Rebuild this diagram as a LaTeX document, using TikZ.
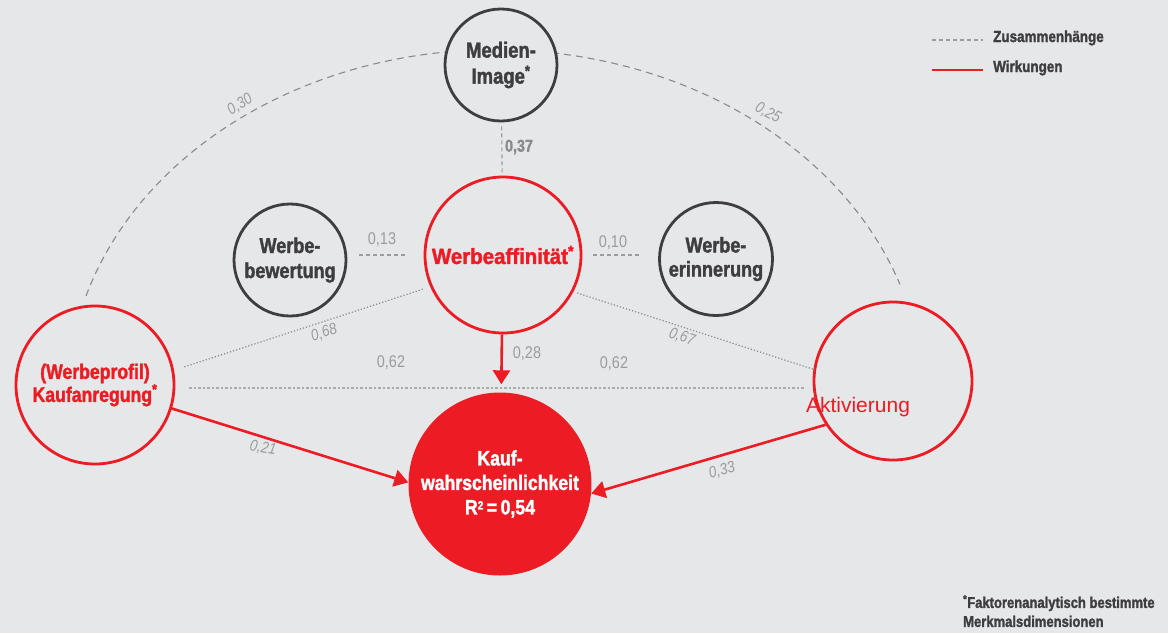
\documentclass[tikz,border=0pt]{standalone}
\usepackage{fontspec}
\setmainfont{Liberation Sans}
\newfontfamily\cnd[FakeStretch=0.85]{Liberation Sans}
\newfontfamily\hvy[FakeStretch=0.84,FakeBold=1.6]{Liberation Sans}
\newfontfamily\hvyw[FakeStretch=0.93,FakeBold=1.6]{Liberation Sans}
\usetikzlibrary{arrows.meta,calc}
\definecolor{bgc}{HTML}{E6E7E8}
\definecolor{rd}{HTML}{ED1C24}
\definecolor{dk}{HTML}{3E3E40}
\definecolor{lg}{HTML}{9C9C9C}
\definecolor{lk}{HTML}{8A8A8A}
\definecolor{arcc}{HTML}{8A8A8A}
\begin{document}
\begin{tikzpicture}[x=1pt,y=-1pt,
  circ/.style={circle, line width=2.8pt, fill=bgc, inner sep=0pt, align=center},
  dkcirc/.style={circ, draw=dk, text=dk, font=\hvy\bfseries\fontsize{22}{26}\selectfont},
  rdcirc/.style={circ, draw=rd, text=rd},
  num/.style={text=lg, font=\cnd\fontsize{17}{20}\selectfont, inner sep=0pt},
  inum/.style={num, font=\cnd\itshape\fontsize{16}{19}\selectfont},
  dashln/.style={draw=lg, line width=1.1pt, dash pattern=on 4pt off 3pt},
  arcln/.style={draw=arcc, line width=1.1pt, dash pattern=on 7pt off 5pt},
  dotln/.style={draw=lk, line width=1.2pt, dash pattern=on 1.2pt off 2pt},
  hdotln/.style={draw=lg!85!white, line width=1.2pt, dash pattern=on 2.5pt off 2pt},
  wirk/.style={draw=rd, line width=2.6pt, -{Triangle[length=14pt,width=17pt]}},
  legtxt/.style={anchor=base west, text=dk, inner sep=0pt, font=\hvy\bfseries\fontsize{16}{19}\selectfont},
]
\fill[bgc] (0,0) rectangle (1168,633);

% big dashed arc (behind the circles)
\coordinate (arcL) at (86,296);
\draw[arcln] (arcL) arc[start angle=163, end angle=19, x radius=428pt, y radius=348pt];

% nodes
\node[dkcirc, minimum size=112pt] (mi) at (501,65) {Medien-\\Image\textsuperscript{*}};
\node[rdcirc, minimum size=156pt, font=\hvyw\bfseries\fontsize{22}{26}\selectfont] (wa) at (503,255) {Werbeaffinität\textsuperscript{*}};
\node[dkcirc, minimum size=112pt, font=\hvy\bfseries\fontsize{21.5}{25}\selectfont] (wb) at (290,260) {Werbe-\\bewertung};
\node[dkcirc, minimum size=113pt, font=\hvy\bfseries\fontsize{21.5}{24}\selectfont] (we) at (716,259) {Werbe-\\erinnerung};
\node[rdcirc, minimum size=158pt, font=\hvy\bfseries\fontsize{21}{23}\selectfont] (ka) at (95,385) {(Werbeprofil)\\Kaufanregung\textsuperscript{*}};
\node[rdcirc, minimum size=158pt] (ak) at (893,381) {};
\node[font=\fontsize{21}{24}\selectfont, text=rd, inner sep=0pt, anchor=base] (akt) at (858,412) {Aktivierung};
\node[circle, fill=rd, minimum size=183pt, inner sep=0pt, text=white, align=center,
      font=\hvy\bfseries\fontsize{21}{24.5}\selectfont] (kw) at (500,484)
      {Kauf-\\wahrscheinlichkeit\\R{\fontsize{12}{12}\selectfont\raisebox{5pt}{2}}\,=\,0,54};

% correlations (dashed / dotted)
\draw[dashln, shorten <=4pt] (mi) -- (wa);
\draw[dashln, shorten <=12pt, shorten >=16pt] (wb.east |- wa.west) -- (wa.west);
\draw[dashln, shorten <=11pt, shorten >=16pt] (wa.east) -- (we.west |- wa.east);
\draw[dotln, shorten <=94pt, shorten >=84pt] ($(ka)+(0,11)$) -- ($(wa)+(0,8)$);
\draw[dotln, shorten <=78pt, shorten >=82pt] ($(wa)+(0,14)$) -- ($(ak)+(0,14)$);
\draw[hdotln, shorten <=94pt, shorten >=88pt] ($(ka)+(0,3)$) coordinate (h) -- (h -| ak);

% effects (red arrows)
\draw[wirk, shorten >=8pt] (wa) -- (kw);
\draw[wirk] (ka.-17) -- (kw.179);
\draw[wirk] (ak.-147) -- (kw.-6);

% labels
\node[num, text=lk, font=\hvy\bfseries\fontsize{17}{20}\selectfont] (l37) at (519,147) {0,37};
\node[num] (l13) at (382,240) {0,13};
\node[num] (l10) at (613,243) {0,10};
\node[inum, rotate=18] (l68) at (324,333) {0,68};
\node[num] (l62a) at (391,363) {0,62};
\node[num] (l62b) at (614,364) {0,62};
\node[inum, rotate=-18] (l67) at (682,337) {0,67};
\node[num] (l28) at (527,354) {0,28};
\node[inum, rotate=-10] (l21) at (263,448) {0,21};
\node[inum, rotate=15] (l33) at (722,471) {0,33};
\node[inum, rotate=32] (l30) at (240,105) {0,30};
\node[inum, rotate=-28] (l25) at (768,113) {0,25};

% legend
\node[legtxt] (lz) at (993,42) {Zusammenhänge};
\node[legtxt] (lw) at (993,72) {Wirkungen};
\draw[dashln] ($(lz.base west)+(-61,-2)$) -- ++(51,0);
\draw[draw=rd, line width=2pt] ($(lw.base west)+(-61,-2)$) -- ++(51,0);

% footnote
\node[anchor=north west, align=left, text=dk, inner sep=0pt,
      font=\hvy\bfseries\fontsize{15.5}{19}\selectfont] (fn) at (963,595)
      {\textsuperscript{*}Faktorenanalytisch bestimmte\\Merkmalsdimensionen};
\end{tikzpicture}
\end{document}
